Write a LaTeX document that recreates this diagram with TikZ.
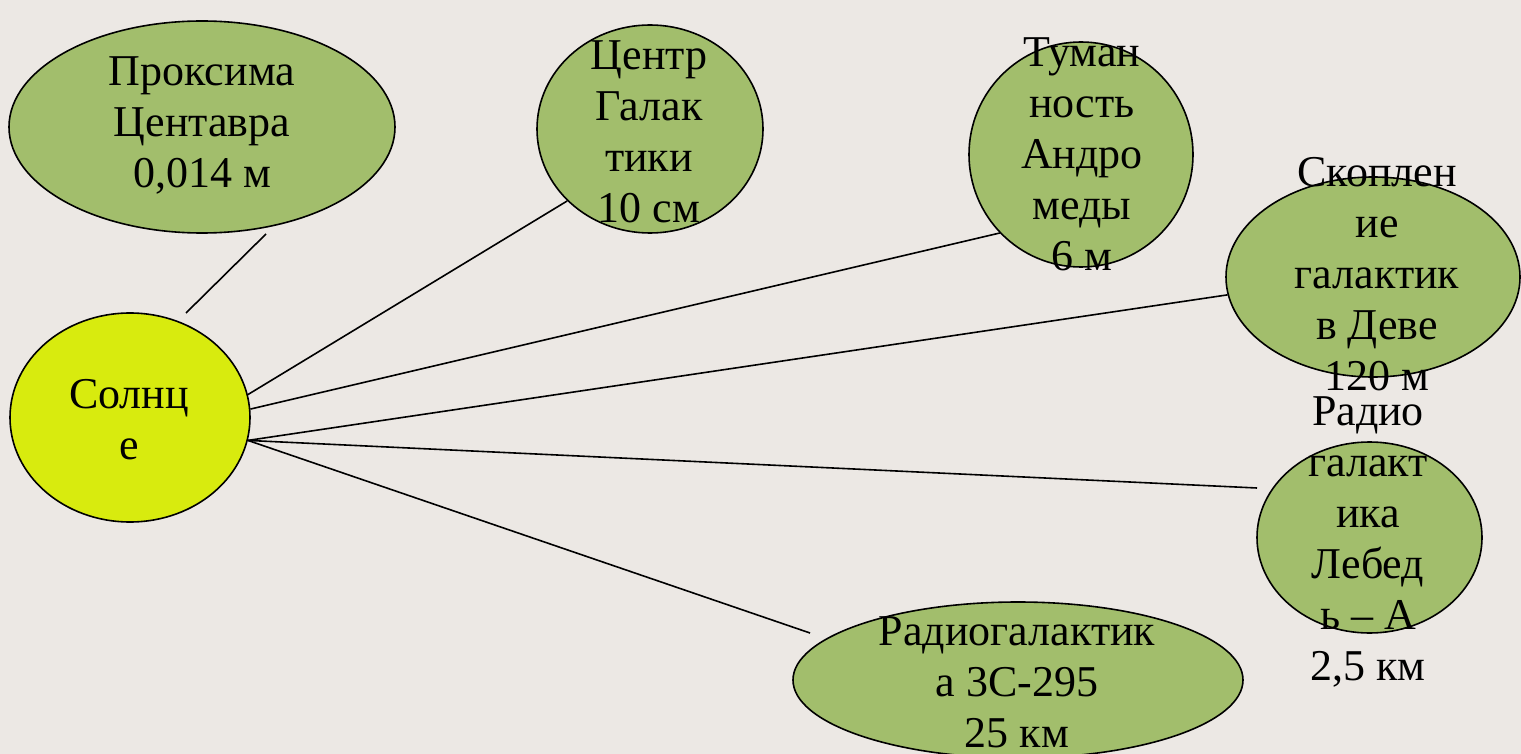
\documentclass[tikz,border=0pt]{standalone}
\usepackage{fontspec}
\setmainfont{Liberation Serif}
\usetikzlibrary{shapes.geometric}
\definecolor{bgc}{RGB}{236,232,228}
\definecolor{grn}{RGB}{162,190,108}
\definecolor{ylw}{RGB}{216,235,14}
\newcommand\mlines[1]{\begin{tabular}[t]{@{}c@{}}#1\end{tabular}}
\begin{document}
\begin{tikzpicture}[x=1pt,y=-1pt,
  body/.style={ellipse, draw=black, line width=1.6pt, fill=grn, inner sep=0pt},
  lbl/.style={anchor=base, inner sep=0pt, font=\fontsize{44}{51}\selectfont},
  link/.style={draw=black, line width=1.6pt}]
\fill[bgc] (0,0) rectangle (1521,754);
\useasboundingbox (0,0) rectangle (1521,754);
% bodies
\node[body, minimum width=386pt, minimum height=212pt] (prox) at (202,127) {};
\node[body, minimum width=226pt, minimum height=208pt] (gc) at (650,129) {};
\node[body, minimum width=224pt, minimum height=225pt] (andr) at (1081,154.5) {};
\node[body, minimum width=294pt, minimum height=200pt] (virgo) at (1373,277) {};
\node[body, minimum width=225pt, minimum height=191pt] (cyg) at (1369.5,537.5) {};
\node[body, minimum width=450pt, minimum height=156pt] (rg) at (1018,680) {};
\node[body, fill=ylw, minimum width=240pt, minimum height=209pt] (sun) at (130,417.5) {};
% free ends
\coordinate (pa) at (186,313);
\coordinate (pb) at (266,234);
\coordinate (cygE) at (1257,488);
\coordinate (rgE) at (810,633);
% connectors
\draw[link] (pa) -- (pb);
\draw[link] (sun.11.5) -- (gc.221.7);
\draw[link] (sun.4) -- (andr.224.8);
\draw[link] (sun.-11.5) -- (virgo.187.7);
\draw[link] (sun.-11.5) -- (cygE);
\draw[link] (sun.-11.5) -- (rgE);
% labels
\node[lbl] (tprox) at (202,86) {\mlines{Проксима\\Центавра\\0,014 м}};
\node[lbl] (tgc) at (649,70) {\mlines{Центр\\Галак\\тики\\10 см}};
\node[lbl] (tandr) at (1082,67) {\mlines{Туман\\ность\\Андро\\меды\\6 м}};
\node[lbl] (tvirgo) at (1377,187) {\mlines{Скоплен\\ие\\галактик\\в Деве\\120 м}};
\node[lbl] (tcyg) at (1368,425) {\mlines{Радио\\галакт\\ика\\Лебед\\ь – А\\2,5 км}};
\node[lbl] (trg) at (1017,645) {\mlines{Радиогалактик\\а 3С-295\\25 км}};
\node[lbl] (tsun) at (129,408) {\mlines{Солнц\\е}};
\end{tikzpicture}
\end{document}
